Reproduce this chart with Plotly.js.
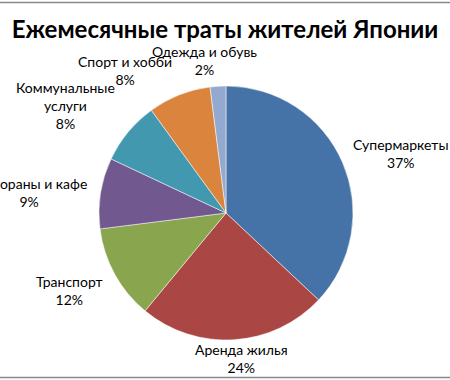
<!DOCTYPE html>
<html>
<head>
<meta charset="utf-8">
<script src="https://cdn.plot.ly/plotly-3.0.1.min.js"></script>
<style>html,body{margin:0;padding:0;background:#fff;}#chart{width:450px;height:380px;}</style>
</head>
<body>
<div id="chart"></div>
<script>
const categories = ['Супермаркеты', 'Аренда жилья', 'Транспорт', 'Рестораны и кафе', 'Коммунальные услуги', 'Спорт и хобби', 'Одежда и обувь'];
const shares = [37, 24, 12, 9, 8, 8, 2];
const colors = ['#4572A7', '#AA4643', '#89A54E', '#71588F', '#4198AF', '#DB843D', '#93A9CF'];
// label centre positions in pixels (layout only)
const labelPosPx = [[401, 154], [241, 358], [69, 290], [29, 192], [65, 105], [125, 70], [204, 60]];

const W = 450, H = 380;
const total = shares.reduce((a, b) => a + b, 0);
const cx = 226, cy = 213, r = 127;

const trace = {
  type: 'pie',
  labels: categories,
  values: shares,
  sort: false,
  direction: 'clockwise',
  rotation: 0,
  textinfo: 'none',
  hoverinfo: 'label+percent',
  marker: {colors: colors, line: {color: 'rgba(255,255,255,0.5)', width: 1}},
  domain: {x: [(cx - r) / W, (cx + r) / W], y: [1 - (cy + r) / H, 1 - (cy - r) / H]},
  showlegend: false
};

const annotations = categories.map((c, i) => {
  const name = c === 'Коммунальные услуги' ? 'Коммунальные<br>услуги' : c;
  const pct = Math.round(shares[i] / total * 100) + '%';
  return {
    text: name + '<br>' + pct,
    xref: 'paper', yref: 'paper',
    x: labelPosPx[i][0] / W, y: 1 - labelPosPx[i][1] / H,
    xanchor: 'center', yanchor: 'middle',
    showarrow: false, align: 'center',
    font: {family: 'Lato, sans-serif', size: 14, color: '#000'}
  };
});

const layout = {
  width: W, height: H,
  margin: {l: 0, r: 0, t: 0, b: 0},
  paper_bgcolor: '#fff',
  title: {
    text: 'Ежемесячные траты жителей Японии',
    x: 0.5, xanchor: 'center', y: 1 - 30 / H, yanchor: 'middle',
    font: {family: 'Lato, sans-serif', size: 24, weight: 'bold', color: '#000'}
  },
  annotations: annotations,
  shapes: [
    {type: 'line', xref: 'paper', yref: 'paper', x0: 0, x1: 1, y0: 1 - 2.5 / H, y1: 1 - 2.5 / H, line: {color: '#888', width: 1.5}},
    {type: 'line', xref: 'paper', yref: 'paper', x0: 0, x1: 1, y0: 1 - 377.5 / H, y1: 1 - 377.5 / H, line: {color: '#888', width: 1.5}}
  ]
};

Plotly.newPlot('chart', [trace], layout, {displayModeBar: false, staticPlot: true});
</script>
</body>
</html>
